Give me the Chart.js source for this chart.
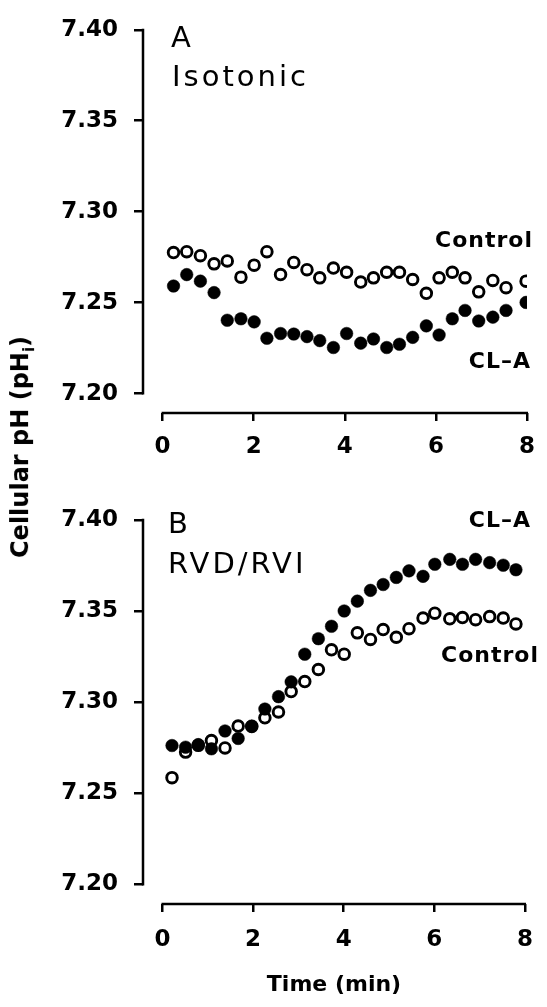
<!DOCTYPE html>
<html>
<head>
<meta charset="utf-8">
<title>Cellular pH</title>
<script src="https://cdn.jsdelivr.net/npm/chart.js@4.4.1/dist/chart.umd.min.js"></script>
<style>
    html, body { margin: 0; padding: 0; background: #fff; }
    #fig { position: relative; width: 547px; height: 1007px; overflow: hidden; }
    #fig canvas { position: absolute; left: 0; }
    #panelA { top: 0; }
    #panelB { top: 490px; }
    #yTitle {
        position: absolute; left: 22px; top: 447px;
        transform: translate(-50%, -50%) rotate(-90deg);
        font: bold 24px "DejaVu Sans"; white-space: nowrap; color: #000;
    }
    #yTitle sub { font-size: 15px; }
</style>
</head>
<body>
<div id="fig">
    <canvas id="panelA" width="547" height="460"></canvas>
    <canvas id="panelB" width="547" height="517"></canvas>
    <div id="yTitle">Cellular pH (pH<sub>i</sub>)</div>
</div>
<script>
// Axis ticks
const phTicks = [7.20, 7.25, 7.30, 7.35, 7.40];
const timeTicks = [0, 2, 4, 6, 8];

// A: isotonic medium (time in min, pHi)
const timeA = [0.24, 0.53, 0.83, 1.13, 1.42, 1.72, 2.01, 2.29, 2.59, 2.88, 3.17, 3.45, 3.75, 4.04,
               4.35, 4.63, 4.92, 5.20, 5.49, 5.79, 6.07, 6.36, 6.64, 6.94, 7.25, 7.54, 7.98];
const controlA = [7.2775, 7.2780, 7.2758, 7.2713, 7.2729, 7.2640, 7.2706, 7.2780, 7.2654, 7.2721,
                  7.2681, 7.2636, 7.2690, 7.2667, 7.2613, 7.2636, 7.2667, 7.2667, 7.2627, 7.2551,
                  7.2636, 7.2667, 7.2636, 7.2559, 7.2622, 7.2582, 7.2618];
const clA_A = [7.2591, 7.2654, 7.2618, 7.2555, 7.2403, 7.2411, 7.2394, 7.2304, 7.2330, 7.2327,
               7.2313, 7.2291, 7.2253, 7.2330, 7.2277, 7.2300, 7.2253, 7.2271, 7.2309, 7.2372,
               7.2322, 7.2411, 7.2457, 7.2399, 7.2420, 7.2457, 7.2501];

// B: RVD/RVI
const timeB = [0.21, 0.51, 0.79, 1.08, 1.38, 1.67, 1.97, 2.26, 2.56, 2.84, 3.14, 3.44, 3.73, 4.01,
               4.30, 4.59, 4.87, 5.16, 5.44, 5.75, 6.01, 6.34, 6.62, 6.91, 7.22, 7.52, 7.80];
const controlB = [7.2586, 7.2726, 7.2763, 7.2789, 7.2749, 7.2869, 7.2866, 7.2914, 7.2946, 7.3058,
                  7.3113, 7.3179, 7.3287, 7.3263, 7.3380, 7.3344, 7.3398, 7.3356, 7.3403, 7.3461,
                  7.3488, 7.3457, 7.3464, 7.3452, 7.3469, 7.3461, 7.3429];
const clA_B = [7.2762, 7.2753, 7.2767, 7.2744, 7.2842, 7.2801, 7.2869, 7.2962, 7.3030, 7.3111,
               7.3263, 7.3348, 7.3416, 7.3500, 7.3554, 7.3613, 7.3645, 7.3684, 7.3720, 7.3690,
               7.3756, 7.3783, 7.3756, 7.3783, 7.3765, 7.3751, 7.3726];

const FONT = '"DejaVu Sans", "Liberation Sans", sans-serif';
const Y_MIN = 7.1893;   // leaves a gap between the pH axis and the time axis
const X_MIN = -0.43;

const toPoints = (xs, ys) => xs.map((x, i) => ({ x: x, y: ys[i] }));

// detached axis lines, spanning only first..last tick
const axisLines = {
    id: 'axisLines',
    afterDraw(chart) {
        const { ctx, chartArea, scales: { x, y } } = chart;
        ctx.save();
        ctx.strokeStyle = '#000';
        ctx.lineWidth = 2.5;
        ctx.beginPath();
        ctx.moveTo(chartArea.left, y.getPixelForValue(phTicks[phTicks.length - 1]) - 1);
        ctx.lineTo(chartArea.left, y.getPixelForValue(phTicks[0]) + 1);
        ctx.moveTo(x.getPixelForValue(timeTicks[0]) - 1, chartArea.bottom);
        ctx.lineTo(x.getPixelForValue(timeTicks[timeTicks.length - 1]) + 1, chartArea.bottom);
        ctx.stroke();
        ctx.restore();
    }
};

// panel titles and series names
const panelText = {
    id: 'panelText',
    afterDraw(chart, args, opts) {
        const ctx = chart.ctx;
        (opts.items || []).forEach(it => {
            ctx.save();
            ctx.font = it.font;
            ctx.fillStyle = '#000';
            ctx.textAlign = it.align || 'left';
            ctx.textBaseline = 'alphabetic';
            ctx.letterSpacing = it.spacing || '0px';
            ctx.fillText(it.text, it.x, it.y);
            ctx.restore();
        });
    }
};

function makePanel(id, control, clA, times, cfg) {
    return new Chart(document.getElementById(id), {
        type: 'scatter',
        data: {
            datasets: [
                {
                    label: 'CL-A',
                    data: toPoints(times, clA),
                    pointRadius: 6.3,
                    pointBackgroundColor: '#000',
                    pointBorderColor: '#000',
                    pointBorderWidth: 0.5
                },
                {
                    label: 'Control',
                    data: toPoints(times, control),
                    pointRadius: 5.3,
                    pointBackgroundColor: '#fff',
                    pointBorderColor: '#000',
                    pointBorderWidth: 2.9
                }
            ]
        },
        options: {
            responsive: false,
            animation: false,
            devicePixelRatio: 1,
            layout: { padding: { left: 0, top: cfg.top, right: 11, bottom: 0 } },
            plugins: {
                legend: { display: false },
                tooltip: { enabled: false },
                panelText: { items: cfg.text }
            },
            scales: {
                x: {
                    type: 'linear',
                    min: X_MIN,
                    max: 8,
                    afterBuildTicks: s => { s.ticks = timeTicks.map(v => ({ value: v })); },
                    afterFit: s => { s.height = cfg.xHeight; },
                    border: { display: false },
                    grid: {
                        drawOnChartArea: false, drawTicks: true, tickLength: 8,
                        tickWidth: 2.5, tickColor: '#000', lineWidth: 2.5, color: '#000'
                    },
                    ticks: {
                        color: '#000', padding: cfg.xPad, maxRotation: 0, autoSkip: false,
                        font: { family: FONT, size: 23, weight: 'bold' }
                    },
                    title: cfg.xTitle
                },
                y: {
                    type: 'linear',
                    min: Y_MIN,
                    max: 7.40,
                    afterBuildTicks: s => { s.ticks = phTicks.map(v => ({ value: v })); },
                    afterFit: s => { s.width = 143; },
                    border: { display: false },
                    grid: {
                        drawOnChartArea: false, drawTicks: true, tickLength: 9,
                        tickWidth: 2.5, tickColor: '#000', lineWidth: 2.5, color: '#000'
                    },
                    ticks: {
                        color: '#000', padding: 16, autoSkip: false,
                        callback: v => v.toFixed(2),
                        font: { family: FONT, size: 23, weight: 'bold' }
                    }
                }
            }
        },
        plugins: [axisLines, panelText]
    });
}

makePanel('panelA', controlA, clA_A, timeA, {
    top: 22,
    xHeight: 47,
    xPad: 12,
    xTitle: { display: false },
    text: [
        { text: 'A', x: 171, y: 47, font: '29px ' + FONT },
        { text: 'Isotonic', x: 172, y: 86, font: '29px ' + FONT, spacing: '3px' },
        { text: 'Control', x: 533, y: 247, font: 'bold 22px ' + FONT, align: 'right', spacing: '1px' },
        { text: 'CL\u2013A', x: 531, y: 368, font: 'bold 22px ' + FONT, align: 'right', spacing: '1px' }
    ]
});

makePanel('panelB', controlB, clA_B, timeB, {
    top: 23,
    xHeight: 103,
    xPad: 14,
    xTitle: {
        display: true, text: 'Time (min)', color: '#000',
        font: { family: FONT, size: 22, weight: 'bold' },
        padding: { top: 0, bottom: 9 }
    },
    text: [
        { text: 'B', x: 168, y: 43, font: '29px ' + FONT },
        { text: 'RVD/RVI', x: 168, y: 83, font: '29px ' + FONT, spacing: '3px' },
        { text: 'CL\u2013A', x: 531, y: 37, font: 'bold 22px ' + FONT, align: 'right', spacing: '1px' },
        { text: 'Control', x: 539, y: 172, font: 'bold 22px ' + FONT, align: 'right', spacing: '1px' }
    ]
});
</script>
</body>
</html>
